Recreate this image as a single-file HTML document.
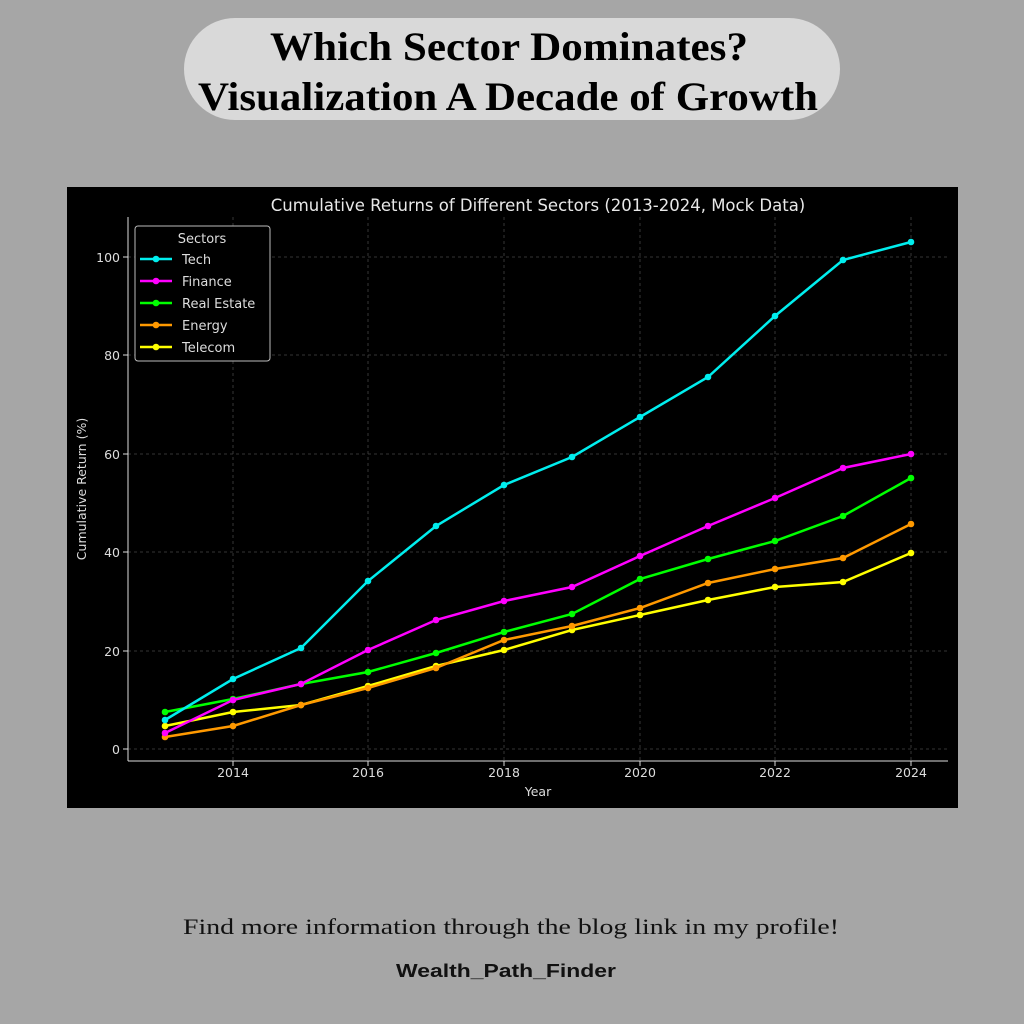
<!DOCTYPE html>
<html><head><meta charset="utf-8"><style>
html,body{margin:0;padding:0;background:#a6a6a6;width:1024px;height:1024px;overflow:hidden}
</style></head><body>
<svg width="1024" height="1024" xmlns="http://www.w3.org/2000/svg" font-family="DejaVu Sans, sans-serif">
<defs>
<marker id="mY" markerWidth="8" markerHeight="8" refX="4" refY="4" markerUnits="userSpaceOnUse"><circle cx="4" cy="4" r="3.3" fill="#ffff00"/></marker>
<marker id="mO" markerWidth="8" markerHeight="8" refX="4" refY="4" markerUnits="userSpaceOnUse"><circle cx="4" cy="4" r="3.3" fill="#ff9900"/></marker>
<marker id="mG" markerWidth="8" markerHeight="8" refX="4" refY="4" markerUnits="userSpaceOnUse"><circle cx="4" cy="4" r="3.3" fill="#00ff00"/></marker>
<marker id="mM" markerWidth="8" markerHeight="8" refX="4" refY="4" markerUnits="userSpaceOnUse"><circle cx="4" cy="4" r="3.3" fill="#ff00ff"/></marker>
<marker id="mC" markerWidth="8" markerHeight="8" refX="4" refY="4" markerUnits="userSpaceOnUse"><circle cx="4" cy="4" r="3.3" fill="#00eeee"/></marker>
</defs>
<rect width="1024" height="1024" fill="#a6a6a6"/>
<rect x="184" y="18" width="656" height="102" rx="51" fill="#d9d9d9"/>
<text x="270" y="60" textLength="478" lengthAdjust="spacingAndGlyphs" font-family="Liberation Serif, serif" font-weight="bold" font-size="40" fill="#000">Which Sector Dominates?</text>
<text x="198" y="110" textLength="620" lengthAdjust="spacingAndGlyphs" font-family="Liberation Serif, serif" font-weight="bold" font-size="40" fill="#000">Visualization A Decade of Growth</text>
<rect x="67" y="187" width="891" height="621" fill="#000"/>
<text x="538" y="211" text-anchor="middle" font-size="16.5" fill="#e8e8e8">Cumulative Returns of Different Sectors (2013-2024, Mock Data)</text>
<g stroke="#444" stroke-dasharray="3,3" stroke-width="0.8">
<line x1="128" x2="948" y1="749" y2="749"/><line x1="128" x2="948" y1="651" y2="651"/><line x1="128" x2="948" y1="552" y2="552"/><line x1="128" x2="948" y1="454" y2="454"/><line x1="128" x2="948" y1="355" y2="355"/><line x1="128" x2="948" y1="257" y2="257"/>
<line x1="233" x2="233" y1="217" y2="761"/><line x1="368" x2="368" y1="217" y2="761"/><line x1="504" x2="504" y1="217" y2="761"/><line x1="640" x2="640" y1="217" y2="761"/><line x1="775" x2="775" y1="217" y2="761"/><line x1="911" x2="911" y1="217" y2="761"/>
</g>
<g stroke="#ddd" stroke-width="1"><line x1="128" y1="217" x2="128" y2="761"/><line x1="128" y1="761" x2="948" y2="761"/>
<line x1="123" x2="128" y1="749" y2="749"/><line x1="123" x2="128" y1="651" y2="651"/><line x1="123" x2="128" y1="552" y2="552"/><line x1="123" x2="128" y1="454" y2="454"/><line x1="123" x2="128" y1="355" y2="355"/><line x1="123" x2="128" y1="257" y2="257"/>
<line x1="233" x2="233" y1="761" y2="766"/><line x1="368" x2="368" y1="761" y2="766"/><line x1="504" x2="504" y1="761" y2="766"/><line x1="640" x2="640" y1="761" y2="766"/><line x1="775" x2="775" y1="761" y2="766"/><line x1="911" x2="911" y1="761" y2="766"/></g>
<g fill="#ddd" font-size="12.5" text-anchor="end">
<text x="120" y="754">0</text><text x="120" y="656">20</text><text x="120" y="557">40</text><text x="120" y="459">60</text><text x="120" y="360">80</text><text x="120" y="262">100</text></g>
<g fill="#ddd" font-size="12.5" text-anchor="middle">
<text x="233" y="777">2014</text><text x="368" y="777">2016</text><text x="504" y="777">2018</text><text x="640" y="777">2020</text><text x="775" y="777">2022</text><text x="911" y="777">2024</text>
<text x="538" y="796">Year</text>
<text transform="translate(86,489) rotate(-90)">Cumulative Return (%)</text></g>
<g fill="none" stroke-width="2.5">
<polyline stroke="#ffff00" marker-start="url(#mY)" marker-mid="url(#mY)" marker-end="url(#mY)" points="165,726 233,712 301,705 368,686 436,666 504,650 572,630 640,615 708,600 775,587 843,582 911,553"/>
<polyline stroke="#ff9900" marker-start="url(#mO)" marker-mid="url(#mO)" marker-end="url(#mO)" points="165,737 233,726 301,705 368,688 436,668 504,640 572,626 640,608 708,583 775,569 843,558 911,524"/>
<polyline stroke="#00ff00" marker-start="url(#mG)" marker-mid="url(#mG)" marker-end="url(#mG)" points="165,712 233,699 301,684 368,672 436,653 504,632 572,614 640,579 708,559 775,541 843,516 911,478"/>
<polyline stroke="#ff00ff" marker-start="url(#mM)" marker-mid="url(#mM)" marker-end="url(#mM)" points="165,733 233,700 301,684 368,650 436,620 504,601 572,587 640,556 708,526 775,498 843,468 911,454"/>
<polyline stroke="#00eeee" marker-start="url(#mC)" marker-mid="url(#mC)" marker-end="url(#mC)" points="165,720 233,679 301,648 368,581 436,526 504,485 572,457 640,417 708,377 775,316 843,260 911,242"/>
</g>
<rect x="135" y="226" width="135" height="135" rx="3" fill="#000" stroke="#bbb" stroke-width="1"/>
<text x="202" y="243" text-anchor="middle" font-size="13" fill="#ddd">Sectors</text>
<g stroke-width="2.5">
<line x1="140" x2="172" y1="259" y2="259" stroke="#00eeee"/><circle cx="156" cy="259" r="3.3" fill="#00eeee"/>
<line x1="140" x2="172" y1="281" y2="281" stroke="#ff00ff"/><circle cx="156" cy="281" r="3.3" fill="#ff00ff"/>
<line x1="140" x2="172" y1="303" y2="303" stroke="#00ff00"/><circle cx="156" cy="303" r="3.3" fill="#00ff00"/>
<line x1="140" x2="172" y1="325" y2="325" stroke="#ff9900"/><circle cx="156" cy="325" r="3.3" fill="#ff9900"/>
<line x1="140" x2="172" y1="347" y2="347" stroke="#ffff00"/><circle cx="156" cy="347" r="3.3" fill="#ffff00"/>
</g>
<g fill="#ddd" font-size="13"><text x="182" y="264">Tech</text><text x="182" y="286">Finance</text><text x="182" y="308">Real Estate</text><text x="182" y="330">Energy</text><text x="182" y="352">Telecom</text></g>
<text x="183" y="934" textLength="656" lengthAdjust="spacingAndGlyphs" font-family="Liberation Serif, serif" font-size="22" fill="#111">Find more information through the blog link in my profile!</text>
<text x="396" y="977" textLength="220" lengthAdjust="spacingAndGlyphs" font-family="Liberation Sans, sans-serif" font-weight="bold" font-size="18" fill="#111">Wealth_Path_Finder</text>
</svg>
</body></html>
